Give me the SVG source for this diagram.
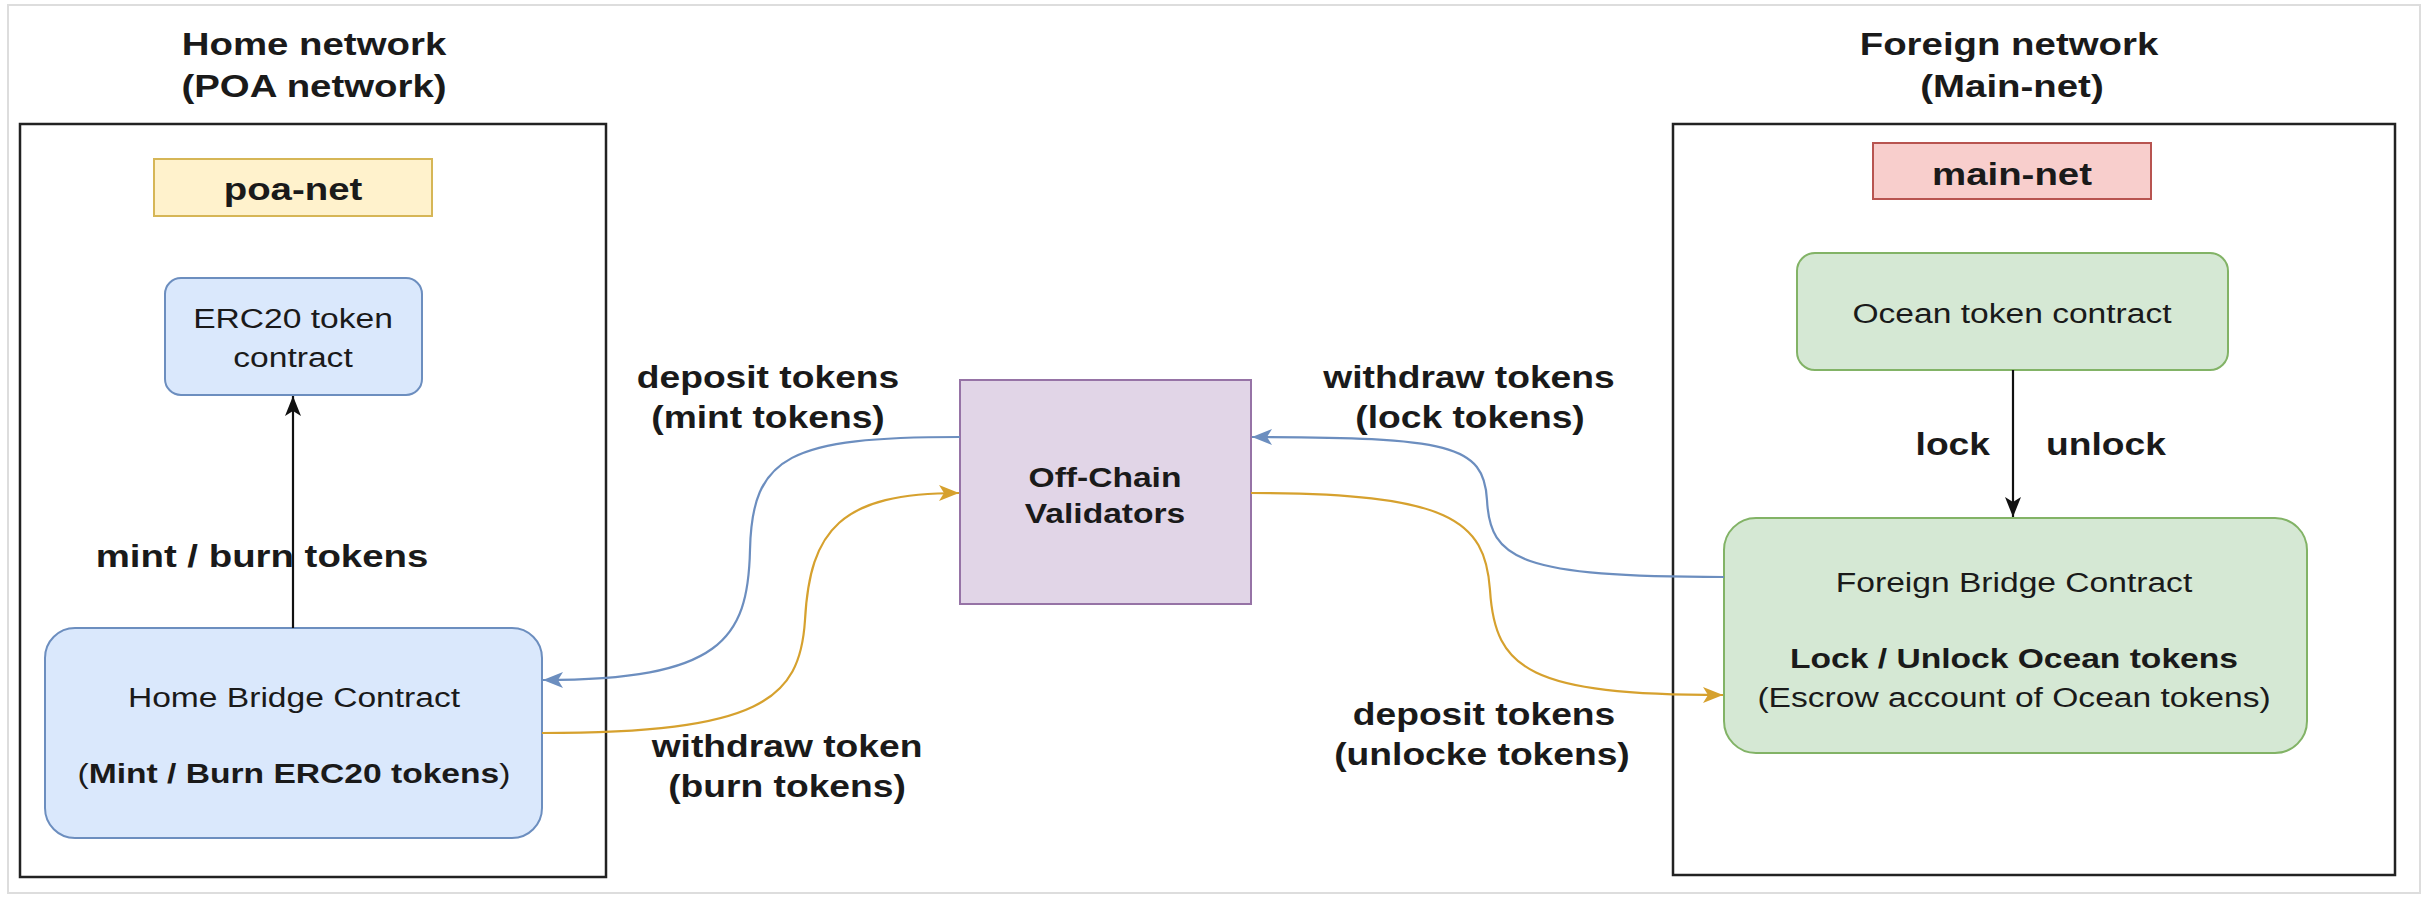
<svg xmlns="http://www.w3.org/2000/svg" width="2435" height="897" viewBox="0 0 2435 897">
<defs>
<style>
text{font-family:"Liberation Sans",Arial,Helvetica,sans-serif;fill:#1a1a1a;text-anchor:middle}
.b{font-weight:bold}
.h{font-size:32px;font-weight:bold}
.e{font-size:31px;font-weight:bold}
.n{font-size:28px}
.nb{font-size:28px;font-weight:bold}
.frame{fill:none;stroke:#222;stroke-width:2.5}
.blue{fill:#dae8fc;stroke:#6c8ebf;stroke-width:2}
.green{fill:#d5e8d4;stroke:#82b366;stroke-width:2}
.conn{fill:none;stroke-width:2.2}
</style>
<marker id="ab" markerUnits="userSpaceOnUse" markerWidth="20" markerHeight="16" viewBox="0 0 20 16" refX="20" refY="8" orient="auto"><path d="M0,0 L20,8 L0,16 L5,8 z" fill="#111"/></marker>
<marker id="abl" markerUnits="userSpaceOnUse" markerWidth="20" markerHeight="16" viewBox="0 0 20 16" refX="20" refY="8" orient="auto"><path d="M0,0 L20,8 L0,16 L5,8 z" fill="#6c8ebf"/></marker>
<marker id="ay" markerUnits="userSpaceOnUse" markerWidth="20" markerHeight="16" viewBox="0 0 20 16" refX="20" refY="8" orient="auto"><path d="M0,0 L20,8 L0,16 L5,8 z" fill="#d6a12e"/></marker>
</defs>
<rect x="0" y="0" width="2435" height="897" fill="#fff"/>
<rect x="8" y="5" width="2412" height="888" fill="none" stroke="#dddddd" stroke-width="2"/>

<g id="home-network">
<rect class="frame" x="20" y="124" width="586" height="753"/>
<text class="h" transform="translate(314 55) scale(1.2 1)">Home network</text>
<text class="h" transform="translate(314 97) scale(1.2 1)">(POA network)</text>
</g>
<g id="foreign-network">
<rect class="frame" x="1673" y="124" width="722" height="751"/>
<text class="h" transform="translate(2009 55) scale(1.2 1)">Foreign network</text>
<text class="h" transform="translate(2012 97) scale(1.2 1)">(Main-net)</text>
</g>

<g id="poa-net">
<rect x="154" y="159" width="278" height="57" fill="#fff2cc" stroke="#d6b656" stroke-width="2"/>
<text class="h" transform="translate(293 200) scale(1.2 1)">poa-net</text>
</g>
<g id="erc20">
<rect class="blue" x="165" y="278" width="257" height="117" rx="16"/>
<text class="n" transform="translate(293 328) scale(1.2 1)">ERC20 token</text>
<text class="n" transform="translate(293 367) scale(1.2 1)">contract</text>
</g>
<g id="home-bridge">
<rect class="blue" x="45" y="628" width="497" height="210" rx="30"/>
<text class="n" transform="translate(294 707) scale(1.2 1)">Home Bridge Contract</text>
<text class="nb" transform="translate(294 783) scale(1.2 1)"><tspan font-weight="normal">(</tspan>Mint / Burn ERC20 tokens<tspan font-weight="normal">)</tspan></text>
</g>
<g id="off-chain">
<rect x="960" y="380" width="291" height="224" fill="#e1d5e7" stroke="#9673a6" stroke-width="2"/>
<text class="nb" transform="translate(1105 487) scale(1.2 1)">Off-Chain</text>
<text class="nb" transform="translate(1105 523) scale(1.2 1)">Validators</text>
</g>
<g id="main-net">
<rect x="1873" y="143" width="278" height="56" fill="#f8cecc" stroke="#b85450" stroke-width="2"/>
<text class="h" transform="translate(2012 185) scale(1.2 1)">main-net</text>
</g>
<g id="ocean-token">
<rect class="green" x="1797" y="253" width="431" height="117" rx="18"/>
<text class="n" transform="translate(2012 323) scale(1.2 1)">Ocean token contract</text>
</g>
<g id="foreign-bridge">
<rect class="green" x="1724" y="518" width="583" height="235" rx="32"/>
<text class="n" transform="translate(2014 592) scale(1.2 1)">Foreign Bridge Contract</text>
<text class="nb" transform="translate(2014 668) scale(1.2 1)">Lock / Unlock Ocean tokens</text>
<text class="n" transform="translate(2014 707) scale(1.2 1)">(Escrow account of Ocean tokens)</text>
</g>

<g id="connectors">
<path class="conn" stroke="#111" d="M293 628 L293 396" marker-end="url(#ab)"/>
<path class="conn" stroke="#111" d="M2013 370 L2013 517" marker-end="url(#ab)"/>
<path class="conn" stroke="#6c8ebf" d="M960 437 C790 437 752 455 750 550 C748 640 720 680 543 680" marker-end="url(#abl)"/>
<path class="conn" stroke="#d6a12e" d="M542 733 C760 733 800 700 805 620 C810 530 840 493 959 493" marker-end="url(#ay)"/>
<path class="conn" stroke="#6c8ebf" d="M1724 577 C1520 577 1490 560 1487 500 C1484 445 1450 437 1252 437" marker-end="url(#abl)"/>
<path class="conn" stroke="#d6a12e" d="M1251 493 C1450 493 1485 520 1490 590 C1495 670 1530 695 1723 695" marker-end="url(#ay)"/>
</g>

<g id="labels">
<text class="h" transform="translate(262 567) scale(1.2 1)">mint / burn tokens</text>
<text class="e" transform="translate(768 388) scale(1.2 1)">deposit tokens</text>
<text class="e" transform="translate(768 428) scale(1.2 1)">(mint tokens)</text>
<text class="e" transform="translate(1469 388) scale(1.2 1)">withdraw tokens</text>
<text class="e" transform="translate(1470 428) scale(1.2 1)">(lock tokens)</text>
<text class="e" transform="translate(787 757) scale(1.2 1)">withdraw token</text>
<text class="e" transform="translate(787 797) scale(1.2 1)">(burn tokens)</text>
<text class="e" transform="translate(1484 725) scale(1.2 1)">deposit tokens</text>
<text class="e" transform="translate(1482 765) scale(1.2 1)">(unlocke tokens)</text>
<text class="e" style="text-anchor:end" transform="translate(1990 455) scale(1.2 1)">lock</text>
<text class="e" style="text-anchor:start" transform="translate(2046 455) scale(1.2 1)">unlock</text>
</g>
</svg>
